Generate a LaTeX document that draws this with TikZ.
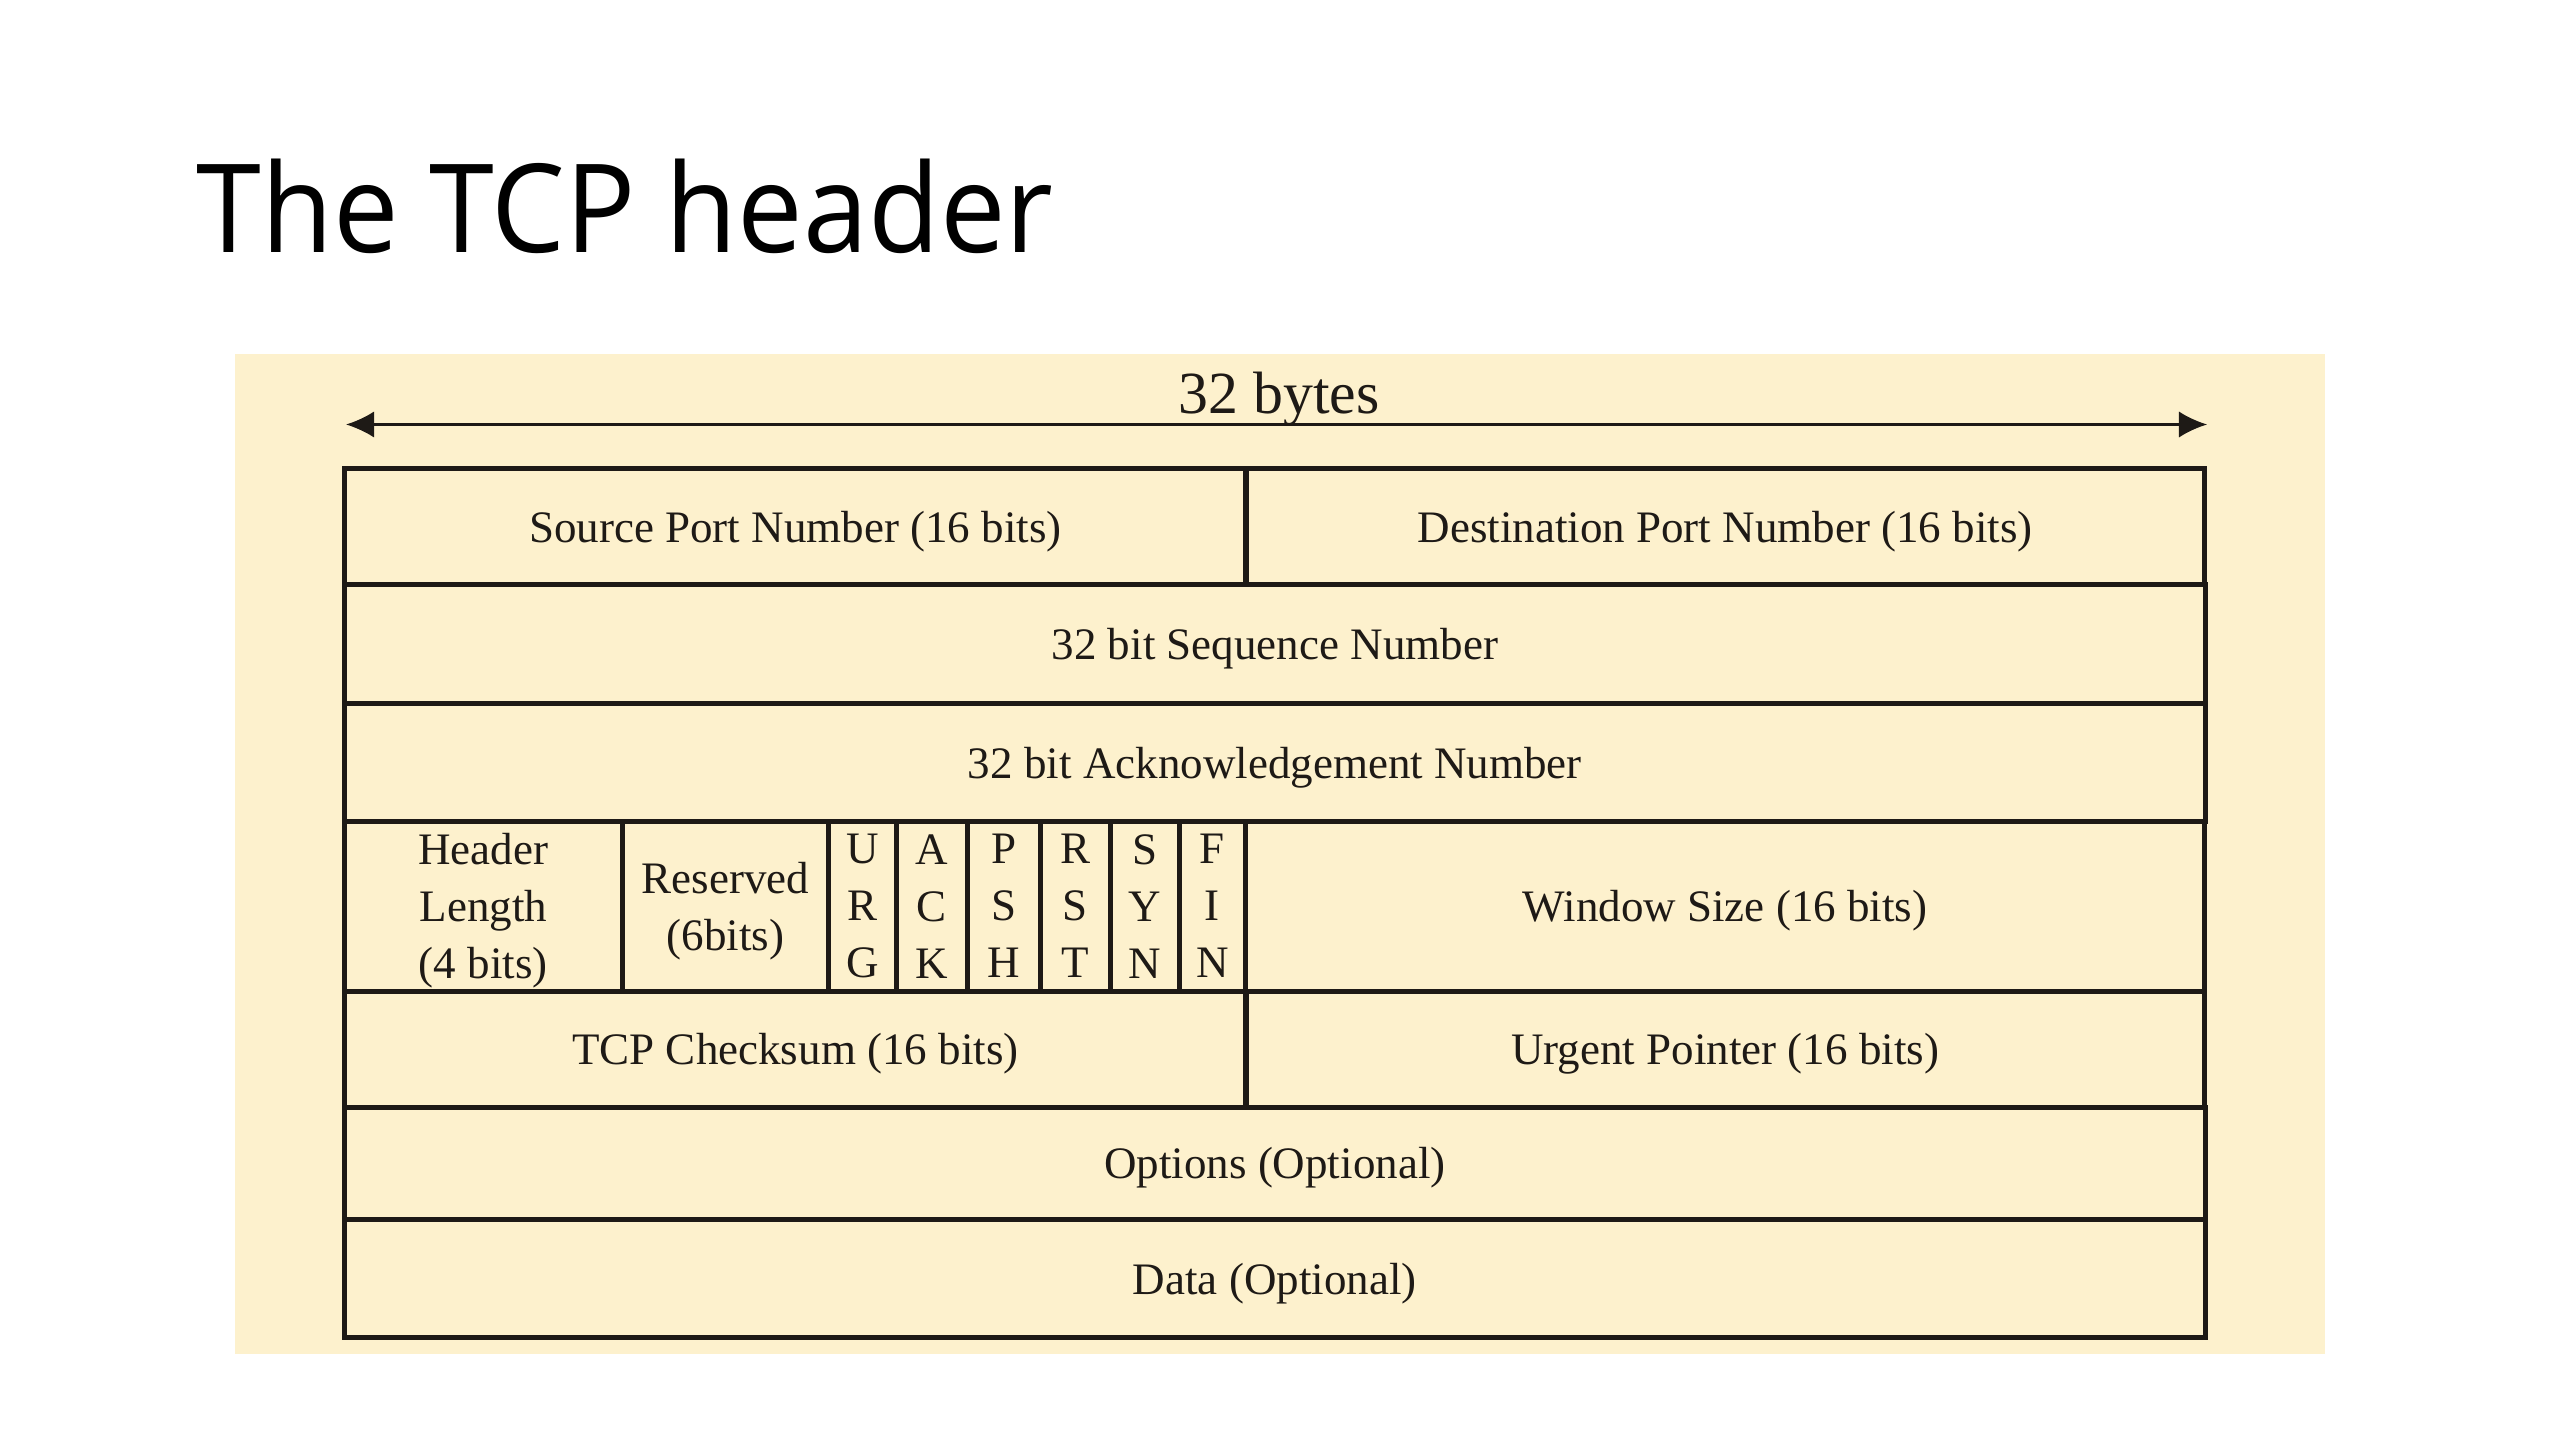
\documentclass[tikz,border=0pt]{standalone}
\usepackage{fontspec}
\setmainfont{Liberation Serif}
\newfontfamily\slidefont[FakeStretch=0.95]{Open Sans}
\usetikzlibrary{arrows.meta}

\definecolor{paper}{RGB}{253,241,205}
\definecolor{ink}{RGB}{30,26,22}

\begin{document}
\begin{tikzpicture}[
    x=0.01cm,
    y=-0.01cm,
    >={Latex[length=8pt,width=7.5pt]},
    slidetitle/.style={
        font=\slidefont\fontsize{35}{40}\selectfont,
        anchor=base west,
        inner sep=0pt
    },
    field/.style={
        draw=ink,
        line width=1.4pt,
        anchor=north west,
        inner sep=0pt,
        outer sep=0pt,
        text depth=0pt,
        align=center,
        text=ink,
        font=\fontsize{12.8}{16.2}\selectfont
    },
    widthlabel/.style={
        font=\fontsize{17}{18}\selectfont,
        text=ink,
        anchor=base,
        inner sep=0pt
    },
    span/.style={
        <->,
        draw=ink,
        line width=0.7pt
    }
]

\useasboundingbox (0,0) rectangle (2560,1440);

% Left edge, middle split and right edge of the header table
\def\LeftX{344.5}
\def\MidX{1245.7}
\def\RightX{2204.1}

% ==================================================
% Slide title and backdrop
% ==================================================

\node[slidetitle] (title) at (196,253) {The TCP header};

\fill[paper] (235,354) rectangle (2325,1353.5);

% ==================================================
% Width of one row
% ==================================================

\coordinate (spanL) at (346,424.5);
\coordinate (spanR) at (2207,424.5);

\draw[span] (spanL) -- (spanR);

\node[widthlabel] (bytes) at (1279,414) {32 bytes};

% ==================================================
% Rows of the header
% ==================================================

% Ports
\node[field, minimum width=9.012cm, minimum height=1.159cm]
    (srcport) at (\LeftX,468.6) {Source Port Number (16 bits)};
\node[field, minimum width=9.584cm, minimum height=1.159cm]
    (dstport) at (\MidX,468.6) {Destination Port Number (16 bits)};

% Sequence and acknowledgement
\node[field, minimum width=18.596cm, minimum height=1.192cm]
    (seqnum) at (\LeftX,584.5) {32 bit Sequence Number};
\node[field, minimum width=18.596cm, minimum height=1.176cm]
    (acknum) at (\LeftX,703.7) {32 bit Acknowledgement Number};

% Length, reserved bits, flags and window
\node[field, minimum width=2.775cm, minimum height=1.697cm]
    (hdrlen) at (\LeftX,821.3) {Header\\Length\\(4 bits)};
\node[field, minimum width=2.065cm, minimum height=1.697cm]
    (reserved) at (622,821.3) {Reserved\\(6bits)};
\node[field, minimum width=0.679cm, minimum height=1.697cm]
    (urg) at (828.5,821.3) {U\\R\\G};
\node[field, minimum width=0.706cm, minimum height=1.697cm]
    (ack) at (896.4,821.3) {A\\C\\K};
\node[field, minimum width=0.735cm, minimum height=1.697cm]
    (psh) at (967,821.3) {P\\S\\H};
\node[field, minimum width=0.695cm, minimum height=1.697cm]
    (rst) at (1040.5,821.3) {R\\S\\T};
\node[field, minimum width=0.69cm, minimum height=1.697cm]
    (syn) at (1110,821.3) {S\\Y\\N};
\node[field, minimum width=0.667cm, minimum height=1.697cm]
    (fin) at (1179,821.3) {F\\I\\N};
\node[field, minimum width=9.584cm, minimum height=1.697cm]
    (window) at (\MidX,821.3) {Window Size (16 bits)};

% Checksum and urgent pointer
\node[field, minimum width=9.012cm, minimum height=1.16cm]
    (checksum) at (\LeftX,991) {TCP Checksum (16 bits)};
\node[field, minimum width=9.584cm, minimum height=1.16cm]
    (urgptr) at (\MidX,991) {Urgent Pointer (16 bits)};

% Optional parts
\node[field, minimum width=18.596cm, minimum height=1.126cm]
    (options) at (\LeftX,1107) {Options (Optional)};
\node[field, minimum width=18.596cm, minimum height=1.176cm]
    (data) at (\LeftX,1219.6) {Data (Optional)};

\end{tikzpicture}
\end{document}
